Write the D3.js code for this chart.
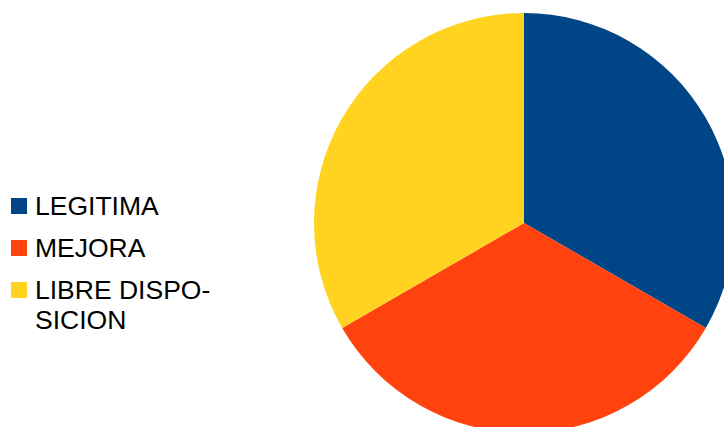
<!DOCTYPE html>
<head>
<meta charset="utf-8">
<script src="https://d3js.org/d3.v7.min.js"></script>
<style>
    body { margin: 0; background: #fff; }
    text { font-family: "Liberation Sans", Arial, sans-serif; fill: #000; }
</style>
</head>
<body>
<svg></svg>
<script>
    var width = 724;
    var height = 427;

    // data
    var categories = ["LEGITIMA", "MEJORA", "LIBRE DISPOSICION"];
    var values = [1, 1, 1];
    var legendLines = [["LEGITIMA"], ["MEJORA"], ["LIBRE DISPO-", "SICION"]];
    var colors = ["#004586", "#ff420e", "#ffd320"];

    var svg = d3.select("svg")
        .attr("width", width)
        .attr("height", height);

    var color = d3.scaleOrdinal().domain(categories).range(colors);

    var cx = 524, cy = 223, radius = 210;

    var pie = d3.pie().sort(null).value(function(d) { return d.value; });
    var arc = d3.arc().innerRadius(0).outerRadius(radius);

    var rows = categories.map(function(c, i) { return {name: c, value: values[i], lines: legendLines[i]}; });

    svg.append("g")
        .attr("transform", "translate(" + cx + "," + cy + ")")
        .selectAll("path")
        .data(pie(rows))
        .enter().append("path")
        .attr("d", arc)
        .style("fill", function(d) { return color(d.data.name); });

    // legend
    var legend = svg.append("g");
    var rowY = [215, 257, 299];

    var item = legend.selectAll("g")
        .data(rows)
        .enter().append("g")
        .attr("transform", function(d, i) { return "translate(0," + rowY[i] + ")"; });

    item.append("rect")
        .attr("x", 11)
        .attr("y", -17)
        .attr("width", 16)
        .attr("height", 16)
        .style("fill", function(d) { return color(d.name); });

    item.append("text")
        .attr("x", 35)
        .style("font-size", "26.5px")
        .selectAll("tspan")
        .data(function(d) { return d.lines; })
        .enter().append("tspan")
        .attr("x", 35)
        .attr("dy", function(d, i) { return i === 0 ? 0 : 29.5; })
        .text(function(d) { return d; });
</script>
</body>
